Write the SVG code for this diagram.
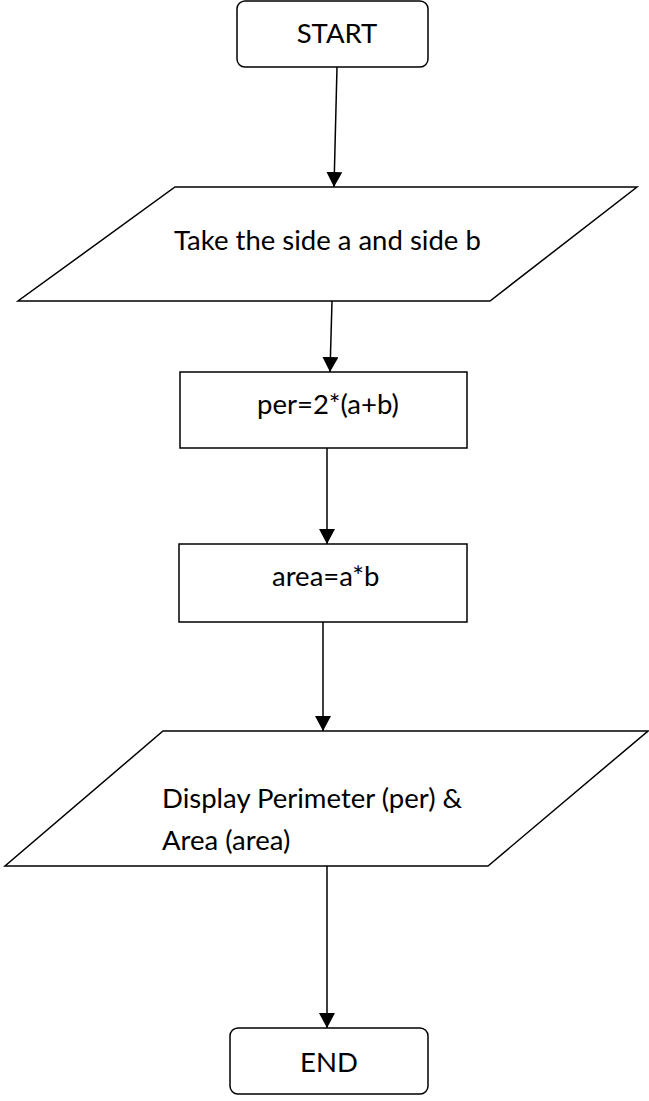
<svg xmlns="http://www.w3.org/2000/svg" width="649" height="1101" viewBox="0 0 649 1101">
  <style>
    .shape { fill: #ffffff; stroke: #000000; stroke-width: 1.5; }
    .label { font-family: "Lato", "Liberation Sans", sans-serif; font-size: 27.5px; fill: #000000; }
    .mid { text-anchor: middle; }
    .flow { stroke: #000000; stroke-width: 1.5; fill: none; marker-end: url(#arrow); }
  </style>
  <defs>
    <!-- filled triangular arrowhead, tip at the end of the line -->
    <marker id="arrow" viewBox="0 0 15 16" refX="15" refY="8" markerWidth="15" markerHeight="16" markerUnits="userSpaceOnUse" orient="auto">
      <path d="M0,0 L15,8 L0,16 Z" fill="#000000"/>
    </marker>
  </defs>

  <!-- connectors -->
  <g id="connectors">
    <line class="flow" x1="337" y1="67" x2="334" y2="187"/>
    <line class="flow" x1="332" y1="301" x2="330" y2="372"/>
    <line class="flow" x1="327" y1="448" x2="327" y2="544"/>
    <line class="flow" x1="323" y1="622" x2="323" y2="731"/>
    <line class="flow" x1="327" y1="866" x2="327" y2="1028"/>
  </g>

  <g id="start">
    <rect class="shape" x="237" y="1" width="191" height="66" rx="8" ry="8"/>
    <text class="label mid" x="337" y="43">START</text>
  </g>

  <g id="input">
    <polygon class="shape" points="175,187 637,187 490,301 18,301"/>
    <text class="label" x="174" y="250">Take the side a and side b</text>
  </g>

  <g id="perimeter">
    <rect class="shape" x="180" y="372" width="287" height="76"/>
    <text class="label" x="257" y="414">per=2*(a+b)</text>
  </g>

  <g id="area">
    <rect class="shape" x="179" y="544" width="288" height="78"/>
    <text class="label" x="272" y="586">area=a*b</text>
  </g>

  <g id="output">
    <polygon class="shape" points="163,731 648,731 488,866 5,866"/>
    <text class="label" x="162" y="808">Display Perimeter (per) &amp;</text>
    <text class="label" x="162" y="850">Area (area)</text>
  </g>

  <g id="end">
    <rect class="shape" x="230" y="1028" width="198" height="66" rx="8" ry="8"/>
    <text class="label mid" x="329" y="1072">END</text>
  </g>
</svg>
